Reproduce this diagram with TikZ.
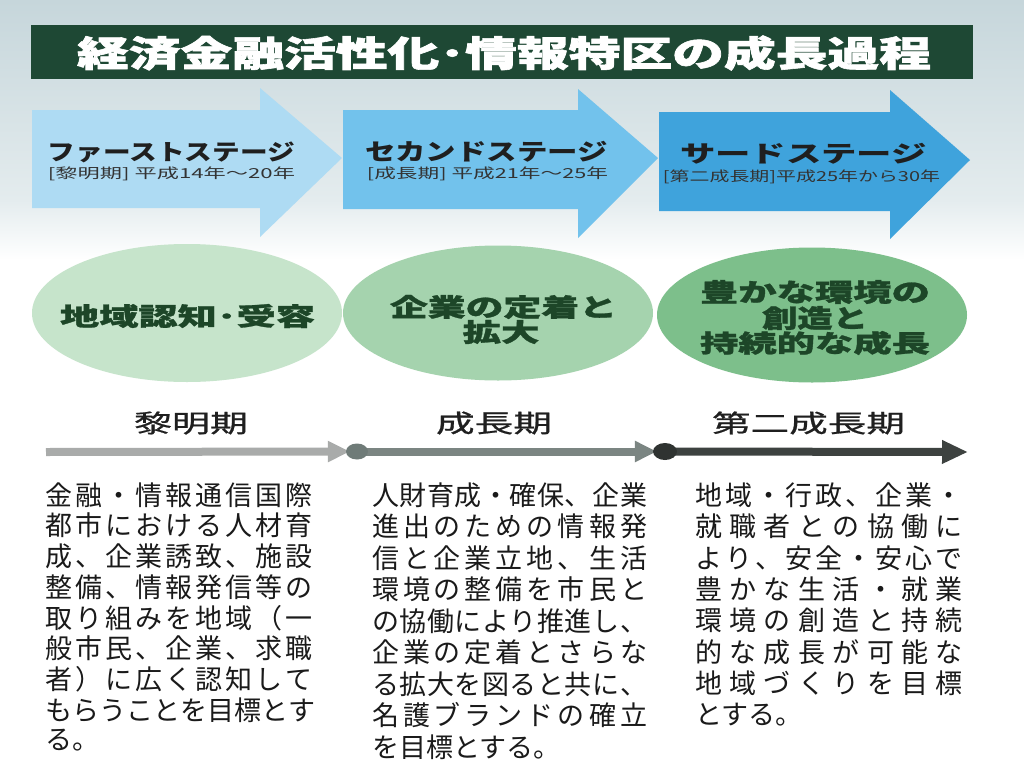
\documentclass[tikz,border=0pt]{standalone}
\usepackage{fontspec}
\setmainfont{Noto Sans CJK JP}
\usepackage{graphicx}
\usetikzlibrary{shapes.geometric,arrows.meta}
\pgfdeclarelayer{back}
\pgfdeclarelayer{lines}
\pgfsetlayers{back,lines,main}

\definecolor{bgtop}{HTML}{C6D6DB}
\definecolor{bgmid}{HTML}{E4ECEE}
\definecolor{titlebg}{HTML}{1E4834}
\definecolor{arrA}{HTML}{AEDBF3}
\definecolor{arrB}{HTML}{72C2EC}
\definecolor{arrC}{HTML}{3FA3DC}
\definecolor{ellA}{HTML}{C6E4CB}
\definecolor{ellB}{HTML}{A5D3AE}
\definecolor{ellC}{HTML}{7DBF8B}
\definecolor{ellT}{HTML}{1D4628}
\definecolor{segA}{HTML}{A9ABAA}
\definecolor{dotA}{HTML}{6F7B78}
\definecolor{segB}{HTML}{7B8582}
\definecolor{dotB}{HTML}{2F3331}
\definecolor{segC}{HTML}{3D4240}
\definecolor{bodyc}{HTML}{1A1A1A}

\newcommand\fitbox[3]{\resizebox*{#1pt}{#2pt}{#3}}
\newcommand\heavy{\bfseries\addfontfeature{FakeBold=1.6}}
\newcommand\semiheavy{\bfseries\addfontfeature{FakeBold=1.0}}
\newcommand\medium{\addfontfeature{FakeBold=0.7}}
\def\sprEnd{}
\def\sprA#1{#1\sprB}
\def\sprB#1{\ifx#1\sprEnd\else\hfil#1\expandafter\sprB\fi}
\newcommand\spr[2]{\makebox[#1pt][s]{\expandafter\sprA#2\sprEnd}}

\tikzset{
  txt/.style={inner sep=0pt, outer sep=0pt},
  ttl/.style={txt, text=white},
  stagetxt/.style={txt, text=black!88},
  subtxt/.style={txt, text=black!80},
  elltxt/.style={txt, text=ellT},
  periodtxt/.style={txt, text=black!88},
  body/.style={txt, anchor=west, text=bodyc, font=\fontsize{27}{27}\selectfont},
  stagebox/.style={ellipse, inner sep=0pt, minimum width=310pt, minimum height=136pt},
  dot/.style={ellipse, inner sep=0pt},
  seg/.style={line width=8pt},
}

\begin{document}
\begin{tikzpicture}[x=1pt, y=-1pt]
\useasboundingbox (0,0) rectangle (1024,768);
\begin{pgfonlayer}{back}
  \fill[white] (0,0) rectangle (1024,768);
  \fill[top color=bgtop, bottom color=bgmid] (0,0) rectangle (1024,200);
  \fill[top color=bgmid, bottom color=white] (0,200) rectangle (1024,260);
\end{pgfonlayer}

% title
\node[fill=titlebg, inner sep=0pt, minimum width=942pt, minimum height=54pt] (bar) at (502,52) {};
\node[ttl] (title) at (504,53) {\fitbox{854}{35}{\heavy 経済金融活性化･情報特区の成長過程}};

% stage arrows
\fill[arrA] (32,110) -- (260,110) -- (260,88) -- (342,158) -- (260,237) -- (260,208) -- (32,208) -- cycle;
\fill[arrB] (343,110) -- (578,110) -- (578,89) -- (658,158) -- (578,238) -- (578,209) -- (343,209) -- cycle;
\fill[arrC] (659,112) -- (890,112) -- (890,90) -- (970,160) -- (890,239) -- (890,211) -- (659,211) -- cycle;

\node[stagetxt] (st1) at (171.5,152) {\fitbox{247}{21}{\bfseries ファーストステージ}};
\node[subtxt] (sb1) at (171.5,174) {\fitbox{247}{14}{[黎明期] 平成14年～20年}};
\node[stagetxt] (st2) at (486.5,152) {\fitbox{243}{21}{\bfseries セカンドステージ}};
\node[subtxt] (sb2) at (487.5,174) {\fitbox{241}{14}{[成長期] 平成21年～25年}};
\node[stagetxt] (st3) at (803.5,154) {\fitbox{247}{21}{\bfseries サードステージ}};
\node[subtxt] (sb3) at (801.5,177) {\fitbox{277}{14}{[第二成長期]平成25年から30年}};

% ellipses
\node[stagebox, fill=ellA, minimum height=138pt] (e1) at (187,313) {};
\node[stagebox, fill=ellB, minimum height=135pt] (e2) at (498,313) {};
\node[stagebox, fill=ellC, minimum height=135pt] (e3) at (812,315) {};

\node[elltxt] (e1a) at (187.5,316) {\fitbox{255}{24}{\semiheavy 地域認知･受容}};
\node[elltxt] (e2a) at (503.5,307) {\fitbox{227}{24}{\semiheavy 企業の定着と}};
\node[elltxt] (e2b) at (501,332) {\fitbox{77}{24}{\semiheavy 拡大}};
\node[elltxt] (e3a) at (815,292) {\fitbox{230}{24}{\semiheavy 豊かな環境の}};
\node[elltxt] (e3b) at (815,318) {\fitbox{106}{24}{\semiheavy 創造と}};
\node[elltxt] (e3c) at (815,343) {\fitbox{230}{24}{\semiheavy 持続的な成長}};

% period labels
\node[periodtxt] (pl1) at (191,423) {\fitbox{114}{23}{\medium 黎明期}};
\node[periodtxt] (pl2) at (494,423) {\fitbox{116}{23}{\medium 成長期}};
\node[periodtxt] (pl3) at (808.5,423) {\fitbox{193}{23}{\medium 第二成長期}};

% timeline
\coordinate (t0) at (46,452);
\coordinate (t3) at (968,452);
\node[dot, fill=dotA, minimum width=22pt, minimum height=16pt] (d1) at (357,451.5) {};
\node[dot, fill=dotB, minimum width=24pt, minimum height=17pt] (d2) at (665,451.5) {};
\begin{pgfonlayer}{lines}
  \draw[seg, segA, -{Triangle[length=22pt,width=20pt]}] (t0) -- ([xshift=4pt]d1.west);
  \draw[seg, segB, -{Triangle[length=22pt,width=20pt]}] (d1.center) -- ([xshift=4pt]d2.west);
  \draw[seg, segC, -{Triangle[length=26pt,width=22pt]}] (d2.center) -- (t3);
\end{pgfonlayer}

% body text, column 1
\foreach \i/\t in {1/金融・情報通信国際, 2/都市における人材育, 3/成、企業誘致、施設, 4/整備、情報発信等の, 5/取り組みを地域（一, 6/般市民、企業、求職, 7/者）に広く認知して, 8/もらうことを目標とす}
  \node[body] (a\i) at (45,{495+30.7*(\i-1)}) {\spr{268}{\t}};
\node[body] (a9) at (45,740.6) {る。};

% body text, column 2
\foreach \i/\t in {1/人財育成・確保、企業, 2/進出のための情報発, 3/信と企業立地、生活, 4/環境の整備を市民と, 5/の協働により推進し、, 6/企業の定着とさらな, 7/る拡大を図ると共に、, 8/名護ブランドの確立}
  \node[body] (b\i) at (372,{495+31.5*(\i-1)}) {\spr{275}{\t}};
\node[body] (b9) at (372,747) {を目標とする。};

% body text, column 3
\foreach \i/\t in {1/地域・行政、企業・, 2/就職者との協働に, 3/より、安全・安心で, 4/豊かな生活・就業, 5/環境の創造と持続, 6/的な成長が可能な, 7/地域づくりを目標}
  \node[body] (c\i) at (695,{495+31.4*(\i-1)}) {\spr{268}{\t}};
\node[body] (c8) at (695,714.8) {とする。};
\end{tikzpicture}
\end{document}
